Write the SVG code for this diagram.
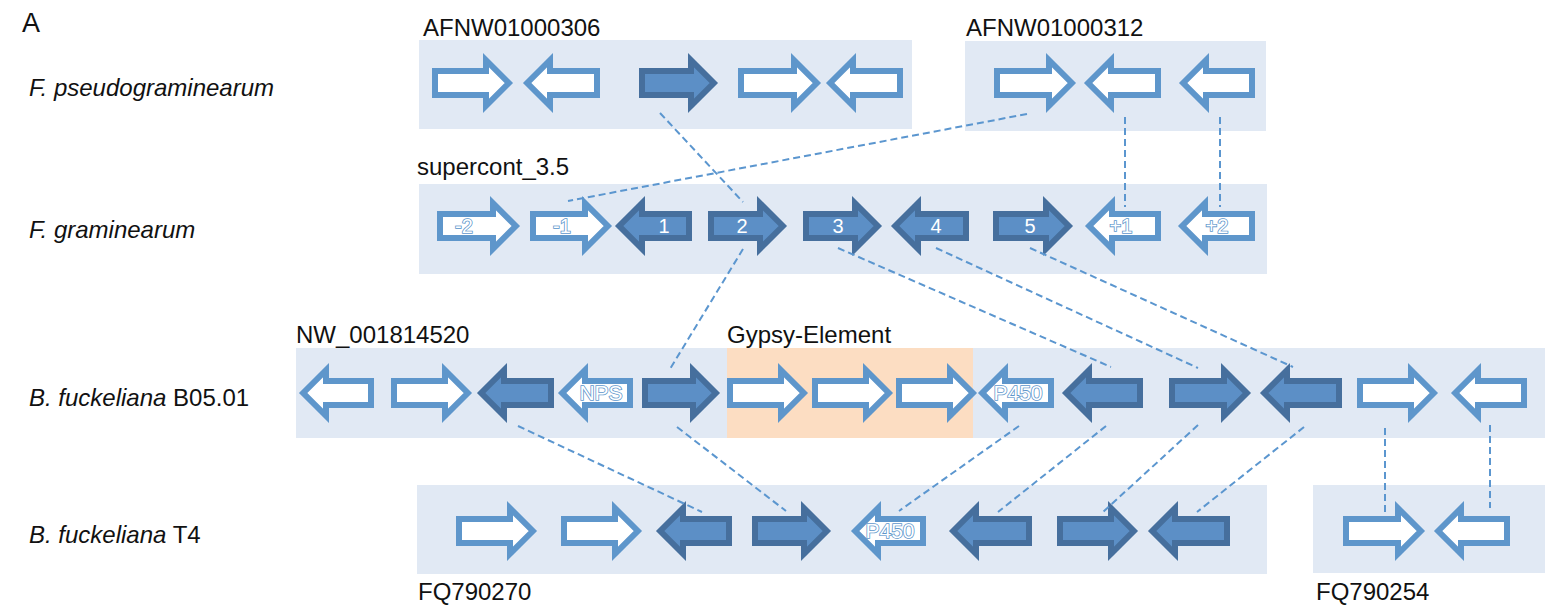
<svg xmlns="http://www.w3.org/2000/svg" width="1554" height="610" viewBox="0 0 1554 610">
<style>
.bg{fill:#E1E9F4}
.gy{fill:#FCDDC2}
.h{fill:#FFFFFF;stroke:#5E96CB;stroke-width:6}
.d{fill:#5C8FC6;stroke:#466F9D;stroke-width:6}
.t{font-family:"Liberation Sans",Arial,sans-serif;font-size:24px;fill:#111}
.big{font-size:27px}
.it{font-style:italic}
.lb{font-family:"Liberation Sans",Arial,sans-serif;font-size:20px;fill:#FFFFFF;text-anchor:middle}
.lo{stroke:#5E96CB;stroke-width:1.6;paint-order:stroke}
.c line{stroke:#5B96CF;stroke-width:2;stroke-dasharray:7,4;fill:none}
</style>
<rect width="1554" height="610" fill="#FFFFFF"/>
<text class="t big" x="22" y="32">A</text>
<g id="labels">
<text class="t it" x="29" y="96">F. pseudograminearum</text>
<text class="t it" x="29" y="238">F. graminearum</text>
<text class="t" x="29" y="406"><tspan class="it">B. fuckeliana</tspan> B05.01</text>
<text class="t" x="29" y="543"><tspan class="it">B. fuckeliana</tspan> T4</text>
</g>
<g id="contig-AFNW01000306">
<rect class="bg" x="419" y="40" width="493" height="89"/>
<text class="t" x="423" y="36">AFNW01000306</text>
<path class="h" d="M435,71 H486 V60.2 L508.8,83 L486,105.8 V95 H435 Z"/>
<path class="h" d="M597,71 H550 V60.2 L527.2,83 L550,105.8 V95 H597 Z"/>
<path class="d" d="M642,71 H691 V60.2 L713.8,83 L691,105.8 V95 H642 Z"/>
<path class="h" d="M741,71 H794 V60.2 L816.8,83 L794,105.8 V95 H741 Z"/>
<path class="h" d="M900,71 H853 V60.2 L830.2,83 L853,105.8 V95 H900 Z"/>
</g>
<g id="contig-AFNW01000312">
<rect class="bg" x="965" y="41" width="301" height="90"/>
<text class="t" x="966" y="36">AFNW01000312</text>
<path class="h" d="M997,71 H1049 V60.2 L1071.8,83 L1049,105.8 V95 H997 Z"/>
<path class="h" d="M1158,71 H1111 V60.2 L1088.2,83 L1111,105.8 V95 H1158 Z"/>
<path class="h" d="M1252,71 H1206 V60.2 L1183.2,83 L1206,105.8 V95 H1252 Z"/>
</g>
<g id="contig-supercont_3.5">
<rect class="bg" x="419" y="184" width="848" height="90"/>
<text class="t" x="417" y="175">supercont_3.5</text>
<path class="h" d="M440,214 H493 V203.2 L515.8,226 L493,248.8 V238 H440 Z"/>
<path class="h" d="M533,214 H585 V203.2 L607.8,226 L585,248.8 V238 H533 Z"/>
<path class="d" d="M689,214 H642 V203.2 L619.2,226 L642,248.8 V238 H689 Z"/>
<path class="d" d="M711,214 H760 V203.2 L782.8,226 L760,248.8 V238 H711 Z"/>
<path class="d" d="M806,214 H855 V203.2 L877.8,226 L855,248.8 V238 H806 Z"/>
<path class="d" d="M966,214 H918 V203.2 L895.2,226 L918,248.8 V238 H966 Z"/>
<path class="d" d="M996,214 H1046 V203.2 L1068.8,226 L1046,248.8 V238 H996 Z"/>
<path class="h" d="M1158,214 H1112 V203.2 L1089.2,226 L1112,248.8 V238 H1158 Z"/>
<path class="h" d="M1252,214 H1205 V203.2 L1182.2,226 L1205,248.8 V238 H1252 Z"/>
<text class="lb lo" x="464" y="233">-2</text>
<text class="lb lo" x="562" y="233">-1</text>
<text class="lb" x="664" y="233">1</text>
<text class="lb" x="742" y="233">2</text>
<text class="lb" x="838" y="233">3</text>
<text class="lb" x="936" y="233">4</text>
<text class="lb" x="1030" y="233">5</text>
<text class="lb lo" x="1121" y="233">+1</text>
<text class="lb lo" x="1217" y="233">+2</text>
</g>
<g id="contig-NW_001814520">
<rect class="bg" x="296" y="348" width="1249" height="90"/>
<rect class="gy" x="727" y="348" width="246" height="90"/>
<text class="t" x="296" y="343">NW_001814520</text>
<text class="t" x="727" y="343">Gypsy-Element</text>
<path class="h" d="M371,381 H326 V370.2 L303.2,393 L326,415.8 V405 H371 Z"/>
<path class="h" d="M394,381 H445 V370.2 L467.8,393 L445,415.8 V405 H394 Z"/>
<path class="d" d="M551,381 H504 V370.2 L481.2,393 L504,415.8 V405 H551 Z"/>
<path class="h" d="M630,381 H585 V370.2 L562.2,393 L585,415.8 V405 H630 Z"/>
<path class="d" d="M645,381 H693 V370.2 L715.8,393 L693,415.8 V405 H645 Z"/>
<path class="h" d="M730,381 H781 V370.2 L803.8,393 L781,415.8 V405 H730 Z"/>
<path class="h" d="M815,381 H866 V370.2 L888.8,393 L866,415.8 V405 H815 Z"/>
<path class="h" d="M899,381 H950 V370.2 L972.8,393 L950,415.8 V405 H899 Z"/>
<path class="h" d="M1051,381 H1005 V370.2 L982.2,393 L1005,415.8 V405 H1051 Z"/>
<path class="d" d="M1140,381 H1089 V370.2 L1066.2,393 L1089,415.8 V405 H1140 Z"/>
<path class="d" d="M1172,381 H1224 V370.2 L1246.8,393 L1224,415.8 V405 H1172 Z"/>
<path class="d" d="M1339,381 H1287 V370.2 L1264.2,393 L1287,415.8 V405 H1339 Z"/>
<path class="h" d="M1360,381 H1411 V370.2 L1433.8,393 L1411,415.8 V405 H1360 Z"/>
<path class="h" d="M1524,381 H1478 V370.2 L1455.2,393 L1478,415.8 V405 H1524 Z"/>
<text class="lb lo" x="601" y="400" style="font-size:21px">NPS</text>
<text class="lb lo" x="1018" y="400" style="font-size:21px">P450</text>
</g>
<g id="contig-FQ790270">
<rect class="bg" x="417" y="485" width="850" height="89"/>
<text class="t" x="418" y="600">FQ790270</text>
<path class="h" d="M459,519 H510 V508.2 L532.8,531 L510,553.8 V543 H459 Z"/>
<path class="h" d="M564,519 H615 V508.2 L637.8,531 L615,553.8 V543 H564 Z"/>
<path class="d" d="M729,519 H683 V508.2 L660.2,531 L683,553.8 V543 H729 Z"/>
<path class="d" d="M755,519 H804 V508.2 L826.8,531 L804,553.8 V543 H755 Z"/>
<path class="h" d="M923,519 H878 V508.2 L855.2,531 L878,553.8 V543 H923 Z"/>
<path class="d" d="M1029,519 H976 V508.2 L953.2,531 L976,553.8 V543 H1029 Z"/>
<path class="d" d="M1060,519 H1111 V508.2 L1133.8,531 L1111,553.8 V543 H1060 Z"/>
<path class="d" d="M1227,519 H1175 V508.2 L1152.2,531 L1175,553.8 V543 H1227 Z"/>
<text class="lb lo" x="890" y="538" style="font-size:21px">P450</text>
</g>
<g id="contig-FQ790254">
<rect class="bg" x="1313" y="485" width="232" height="88"/>
<text class="t" x="1316" y="600">FQ790254</text>
<path class="h" d="M1346,519 H1398 V508.2 L1420.8,531 L1398,553.8 V543 H1346 Z"/>
<path class="h" d="M1507,519 H1461 V508.2 L1438.2,531 L1461,553.8 V543 H1507 Z"/>
</g>
<g id="connectors" class="c">
<line x1="660" y1="113" x2="743" y2="202"/>
<line x1="1027" y1="114" x2="568" y2="201"/>
<line x1="1125" y1="117" x2="1125" y2="207"/>
<line x1="1220" y1="117" x2="1220" y2="207"/>
<line x1="743" y1="249" x2="670" y2="369"/>
<line x1="838" y1="248" x2="1111" y2="367"/>
<line x1="936" y1="248" x2="1198" y2="368"/>
<line x1="1030" y1="248" x2="1293" y2="367"/>
<line x1="518" y1="426" x2="702" y2="512"/>
<line x1="677" y1="427" x2="786" y2="511"/>
<line x1="1019" y1="426" x2="899" y2="511"/>
<line x1="1106" y1="426" x2="998" y2="512"/>
<line x1="1198" y1="425" x2="1103" y2="512"/>
<line x1="1304" y1="427" x2="1197" y2="512"/>
<line x1="1385" y1="428" x2="1385" y2="513"/>
<line x1="1490" y1="425" x2="1490" y2="508"/>
</g>
</svg>
